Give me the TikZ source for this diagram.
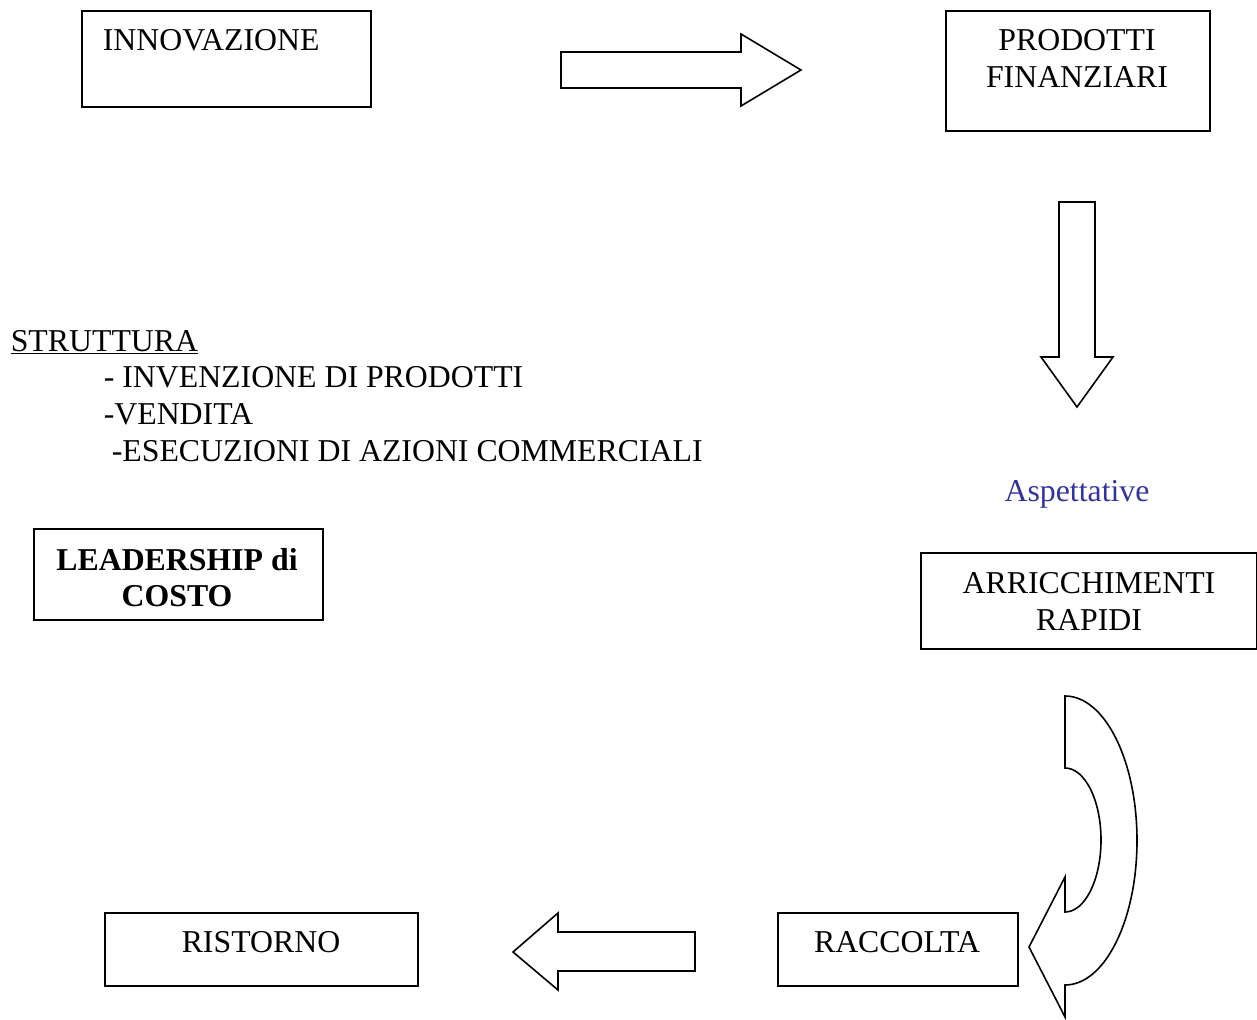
\documentclass[tikz,border=0pt]{standalone}
\usepackage{fontspec}
\setmainfont{Liberation Serif}
\definecolor{aspblue}{RGB}{51,51,160}

\begin{document}
\begin{tikzpicture}[x=1pt, y=-1pt, line width=1.6pt,
  box/.style={rectangle, draw, anchor=north west, inner sep=0pt},
  txt/.style={anchor=base, inner sep=0pt, align=center, font=\fontsize{31.8}{37}\selectfont}]
\useasboundingbox (0,0) rectangle (1257,1019);

  % top row
  \node[box, minimum width=289pt, minimum height=96pt] (innov) at (81,10) {};
  \node[txt, anchor=base west] (innovtxt) at (102,51) {INNOVAZIONE};

  \node[box, minimum width=264pt, minimum height=120pt] (prodotti) at (945,10) {};
  \node[txt] (prodottitxt) at (1077,88) {PRODOTTI\\FINANZIARI};

  \draw (561,52) -- (741,52) -- (741,34) -- (801,70) -- (741,106) -- (741,88) -- (561,88) -- cycle;

  % down the right side
  \draw (1059,202) -- (1095,202) -- (1095,357) -- (1113,357) -- (1077,407) -- (1041,357) -- (1059,357) -- cycle;
  \node[txt, text=aspblue] (asp) at (1077,501) {Aspettative};

  \node[box, minimum width=336pt, minimum height=96pt] (arricch) at (920,552) {};
  \node[txt] (arricchtxt) at (1089,630) {ARRICCHIMENTI\\RAPIDI};

  % curved arrow
  \draw (1065,696) -- (1065,768) arc[start angle=-90, end angle=90, x radius=36, y radius=72]
        -- (1065,877) -- (1029,947) -- (1065,1017) -- (1065,985)
        arc[start angle=90, end angle=-90, x radius=72, y radius=144.5] -- cycle;

  % bottom row
  \node[box, minimum width=240pt, minimum height=73pt] (raccolta) at (777,912) {};
  \node[txt] (raccoltatxt) at (897,952) {RACCOLTA};

  \draw (695,932) -- (558,932) -- (558,913) -- (513,952) -- (558,990) -- (558,971) -- (695,971) -- cycle;

  \node[box, minimum width=313pt, minimum height=73pt] (ristorno) at (104,912) {};
  \node[txt] (ristornotxt) at (261,952) {RISTORNO};

  % left side
  \node[txt, anchor=base west] (strutt) at (10,351) {\underline{STRUTTURA}};
  \node[txt, anchor=base west] (inv) at (103,387) {- INVENZIONE DI PRODOTTI};
  \node[txt, anchor=base west] (vend) at (103,424) {-VENDITA};
  \node[txt, anchor=base west] (esec) at (111,461) {-ESECUZIONI DI AZIONI COMMERCIALI};

  \node[box, minimum width=289pt, minimum height=91pt] (leader) at (33,528) {};
  \node[txt, font=\fontsize{31.8}{36}\bfseries] (leadertxt) at (177,606) {LEADERSHIP di\\COSTO};

\end{tikzpicture}
\end{document}
